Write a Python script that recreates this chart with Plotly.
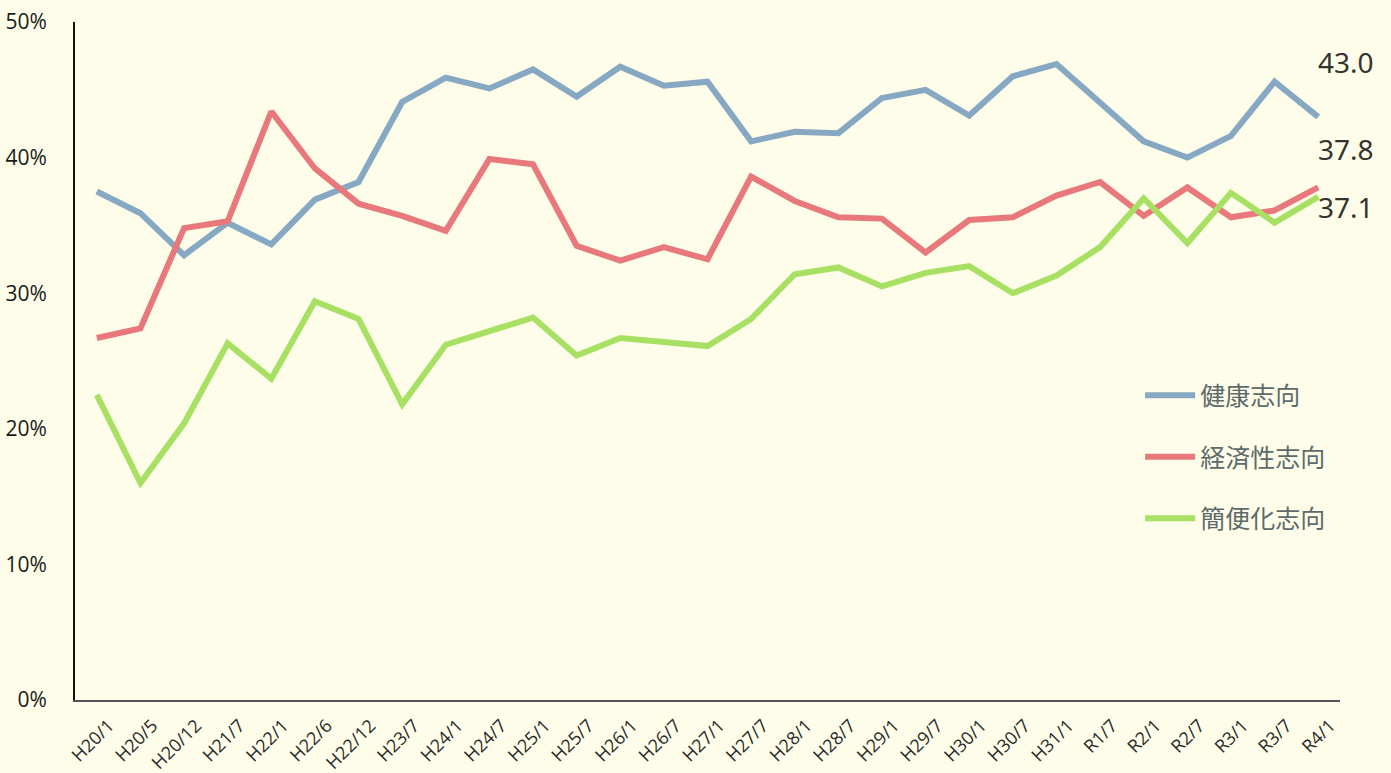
import plotly.graph_objects as go

periods = ["H20/1", "H20/5", "H20/12", "H21/7", "H22/1", "H22/6", "H22/12", "H23/7",
           "H24/1", "H24/7", "H25/1", "H25/7", "H26/1", "H26/7", "H27/1", "H27/7",
           "H28/1", "H28/7", "H29/1", "H29/7", "H30/1", "H30/7", "H31/1", "R1/7",
           "R2/1", "R2/7", "R3/1", "R3/7", "R4/1"]

health = [37.5, 35.9, 32.8, 35.2, 33.6, 36.9, 38.2, 44.1, 45.9, 45.1, 46.5, 44.5, 46.7,
          45.3, 45.6, 41.2, 41.9, 41.8, 44.4, 45.0, 43.1, 46.0, 46.9, 44.0, 41.2, 40.0,
          41.6, 45.6, 43.0]
economy = [26.7, 27.4, 34.8, 35.3, 43.4, 39.2, 36.6, 35.7, 34.6, 39.9, 39.5, 33.5, 32.4,
           33.4, 32.5, 38.6, 36.8, 35.6, 35.5, 33.0, 35.4, 35.6, 37.2, 38.2, 35.7, 37.8,
           35.6, 36.1, 37.8]
convenience = [22.5, 16.0, 20.4, 26.3, 23.7, 29.4, 28.1, 21.8, 26.2, 27.2, 28.2, 25.4, 26.7,
               26.4, 26.1, 28.1, 31.4, 31.9, 30.5, 31.5, 32.0, 30.0, 31.3, 33.4, 37.0, 33.7,
               37.4, 35.2, 37.1]

series_names = ["健康志向", "経済性志向", "簡便化志向"]
series_values = [health, economy, convenience]
colors = ["#86a8c2", "#e8787b", "#a8e063"]
end_labels = ["43.0", "37.8", "37.1"]
end_shifts = [55, 38, -10]

y_tick_vals = [0, 10, 20, 30, 40, 50]
y_tick_text = ["0%", "10%", "20%", "30%", "40%", "50%"]

bg = "#fdfde9"

fig = go.Figure()
for i, (name, vals, col) in enumerate(zip(series_names, series_values, colors)):
    fig.add_trace(go.Scatter(
        x=periods, y=vals, mode="lines", name=name, legendgroup=f"g{i}",
        line=dict(color=col, width=6),
        hoverinfo="x+y+name",
    ))

for vals, txt, ys in zip(series_values, end_labels, end_shifts):
    fig.add_annotation(x=periods[-1], y=vals[-1], text=txt, showarrow=False,
                       xshift=28, yshift=ys, xanchor="center",
                       font=dict(family="Liberation Sans Narrow, Noto Sans", size=28, color="#333330"))

fig.update_layout(
    width=1391, height=773,
    paper_bgcolor=bg, plot_bgcolor=bg,
    margin=dict(l=75, r=51, t=22, b=73, autoexpand=False),
    showlegend=True,
    legend=dict(x=0.842, y=0.483, xanchor="left", yanchor="top",
                bgcolor="rgba(0,0,0,0)", tracegroupgap=26,
                traceorder="grouped", itemwidth=50,
                font=dict(family="Noto Sans CJK JP", size=25, color="#5d6b6a")),
    font=dict(family="Open Sans, Noto Sans", color="#222222", size=16),
    xaxis=dict(
        type="category", range=[-0.5, 28.5], tickangle=-45, automargin=False,
        showline=True, linecolor="#555555", linewidth=2,
        showgrid=False, zeroline=False, ticks="", ticklabelstandoff=6,
        ticklabelshift=12,
        tickfont=dict(family="Open Sans, Noto Sans", size=18, color="#2a2a2a"),
    ),
    yaxis=dict(
        range=[0, 50], tickmode="array", tickvals=y_tick_vals, ticktext=y_tick_text,
        automargin=False,
        showline=True, linecolor="#111111", linewidth=2,
        showgrid=False, zeroline=False, ticks="", ticklabelstandoff=22,
        tickfont=dict(family="Open Sans, Noto Sans", size=21, color="#1a1a1a"),
    ),
)

fig.write_html("out.html", config={"displayModeBar": False},
               post_script="document.body.style.margin='0';document.body.style.background='#fdfde9';")
